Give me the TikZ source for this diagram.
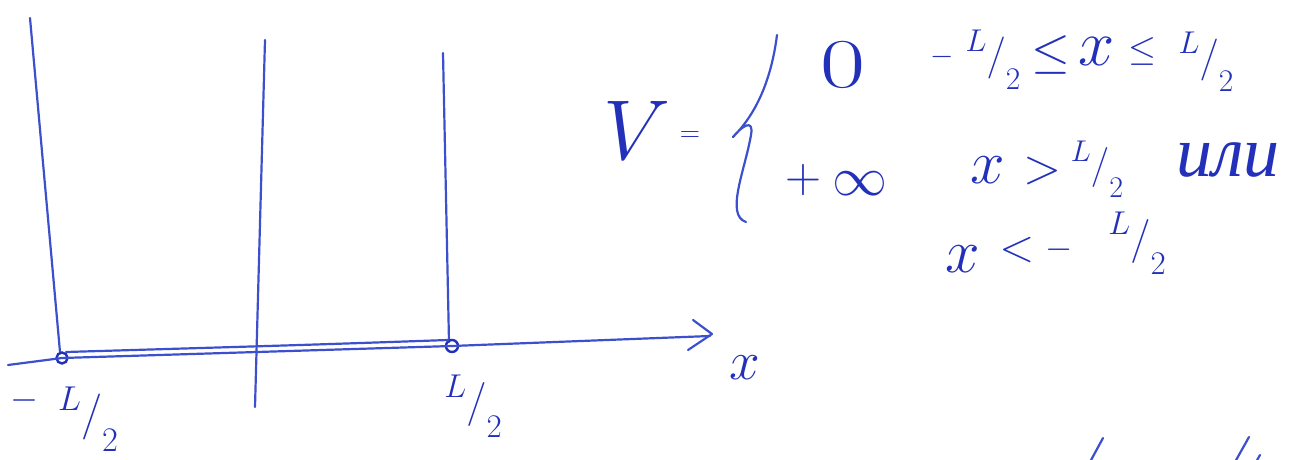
\RequirePackage{fix-cm}
\documentclass[tikz,border=0pt]{standalone}
\usepackage{fontspec}
\usepackage{graphicx}
\newfontfamily\cyrfont{Liberation Serif}
\definecolor{ink}{RGB}{60,80,205}
\definecolor{inkt}{RGB}{35,48,185}
\newcommand{\hfr}[2]{\raisebox{.4em}{\scalebox{.75}{$#1$}}$/$\raisebox{-.5em}{\scalebox{.75}{$#2$}}}
\tikzset{
  pen/.style={draw=ink, line width=2.2pt, line cap=round, line join=round},
  lbl/.style={inner sep=0pt, text=inkt},
  fs/.style={font=\fontsize{#1}{#1}\selectfont},
  dot/.style={circle, draw=inkt, line width=2.4pt, inner sep=0pt, minimum size=#1},
}
\begin{document}
\begin{tikzpicture}[x=1pt,y=-1pt]
\useasboundingbox (0,0) rectangle (1309,460);
% walls and middle line
\coordinate (wLt) at (30,18);
\coordinate (wLb) at (60,352);
\coordinate (mt) at (265,40);
\coordinate (mb) at (255,407);
\coordinate (wRt) at (443,53);
\coordinate (wRb) at (449,342);
\draw[pen] (wLt) -- (wLb);
\draw[pen] (mt) -- (mb);
\draw[pen] (wRt) -- (wRb);
% axis
\node[dot=11pt] (cL) at (62,358) {};
\node[dot=12pt] (cR) at (452,346) {};
\coordinate (a0) at (8,365);
\coordinate (a1) at (710,336);
\draw[pen] (a0) -- (cL.center) -- (cR.center) -- (a1);
\coordinate (h1) at (693,320);
\coordinate (h2) at (712,334);
\coordinate (h3) at (688,350);
\draw[pen] (h1) -- (h2) -- (h3);
% upper floor line
\coordinate (u0) at (66,352);
\coordinate (u1) at (300,345);
\coordinate (u2) at (448,340);
\draw[pen] plot[smooth] coordinates {(u0) (u1) (u2)};
% labels on axis
\node[lbl,fs=55] (xl) at (745,368) {$x$};
\node[lbl,fs=36] (bm) at (24,400) {$-$};
\node[lbl,fs=46] (bf1) at (88,419) {\hfr{L}{2}};
\node[lbl,fs=44] (bf2) at (473,406) {\hfr{L}{2}};
% potential definition
\node[lbl,fs=85] (V) at (637,130) {$V$};
\node[lbl,fs=28] (eq) at (690,137) {$=$};
\coordinate (b0) at (777,35);
\coordinate (b1) at (733,137);
\coordinate (b2) at (751,135);
\coordinate (b3) at (746,222);
\draw[pen] (b0) .. controls (770,90) and (750,120) .. (b1)
               .. controls (742,126) and (754,118) .. (b2)
               .. controls (745,170) and (725,215) .. (b3);
\node[lbl,fs=70] (zero) at (843,65) {\scalebox{1.4}[1]{$0$}};
\node[lbl,fs=30] (m1) at (942,57) {$-$};
\node[lbl,fs=42] (f1) at (993,60) {\hfr{L}{2}};
\node[lbl,fs=50] (le1) at (1051,55) {$\leq$};
\node[lbl,fs=65] (x1) at (1097,52) {$x$};
\node[lbl,fs=36] (le2) at (1142,52) {$\leq$};
\node[lbl,fs=42] (f2) at (1206,62) {\hfr{L}{2}};
\node[lbl,fs=50] (plus) at (803,180) {$+$};
\node[lbl,fs=55] (inf) at (860,184) {$\infty$};
\node[lbl,fs=62] (x2) at (988,170) {$x$};
\node[lbl,fs=50] (gt) at (1043,171) {$>$};
\node[lbl,fs=40] (f3) at (1097,169) {\hfr{L}{2}};
\node[lbl,font={\fontsize{72}{72}\selectfont\cyrfont\itshape}] (ili) at (1228,160) {или};
\node[lbl,fs=62] (x3) at (963,259) {$x$};
\node[lbl,fs=46] (lt) at (1017,250) {$<$};
\node[lbl,fs=35] (m3) at (1059,250) {$-$};
\node[lbl,fs=44] (f4) at (1137,243) {\hfr{L}{2}};
% cut-off strokes at the bottom edge
\coordinate (s1a) at (1103,438);
\coordinate (s1b) at (1090,462);
\coordinate (s2a) at (1249,437);
\coordinate (s2b) at (1235,462);
\coordinate (s3a) at (1260,455);
\coordinate (s3b) at (1256,462);
\draw[pen] (s1a) -- (s1b);
\draw[pen] (s2a) -- (s2b);
\draw[pen] (s3a) -- (s3b);
\end{tikzpicture}
\end{document}
